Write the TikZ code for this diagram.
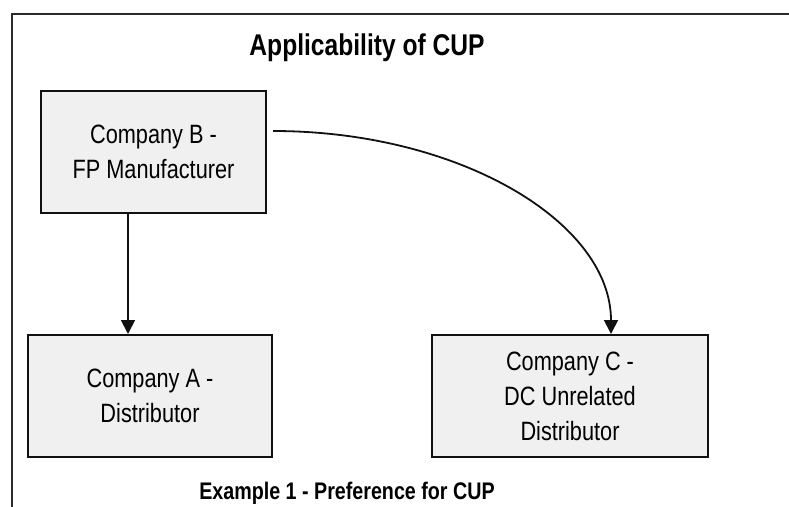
\documentclass[tikz,border=0pt]{standalone}
\usepackage{fontspec}
\setmainfont{Liberation Sans}[FakeStretch=0.82]
\usepackage{xcolor}
\usetikzlibrary{arrows.meta, positioning, calc}
\definecolor{CupFrame}{HTML}{2B2B2B}
\definecolor{CupLine}{HTML}{111111}
\definecolor{CupFill}{HTML}{F0F0F0}
\tikzset{
    % Company box style
    company/.style={
        rectangle,
        draw=CupLine,
        fill=CupFill,
        line width=2pt,
        minimum height=122pt,
        align=center,
        inner sep=0pt,
        font=\fontsize{26.5}{35}\selectfont
    },
    % Heading style
    heading/.style={
        font=\fontsize{30}{34}\selectfont\bfseries
    },
    % Caption style
    caption/.style={
        font=\fontsize{24}{27}\selectfont\bfseries
    },
    % Arrow style
    arrow/.style={
        -{Triangle[length=14pt,width=14pt]},
        line width=1.8pt,
        color=CupLine
    }
}
\begin{document}
\begin{tikzpicture}[x=1pt, y=-1pt]
        \clip (0,0) rectangle (789,506);
        % Outer frame
        \draw [CupFrame, line width=2.5pt] (12,14) rectangle (820,540);

        % Title
        \node (title) [heading] at (367,48) {Applicability of CUP};

        % Companies
        \node (boxB) [company, minimum width=225pt] at (153.5,152) {Company B -\\FP Manufacturer};
        \node (boxA) [company, minimum width=244pt] at (150,396) {Company A -\\Distributor};
        \node (boxC) [company, minimum width=276pt] at (570,396) {Company C -\\DC Unrelated\\Distributor};

        % Arrows
        \coordinate (ab) at (128,0);
        \coordinate (bc) at (611,0);
        \draw [arrow] (boxB.south -| ab) -- (boxA.north -| ab);
        \draw [arrow] ([xshift=6pt,yshift=21pt]boxB.east)
            .. controls +(186,0) and +(0,-112) .. (boxC.north -| bc);

        % Caption below
        \node (caption) [caption, anchor=base] at (347,499) {Example 1 - Preference for CUP};
    \end{tikzpicture}
\end{document}
